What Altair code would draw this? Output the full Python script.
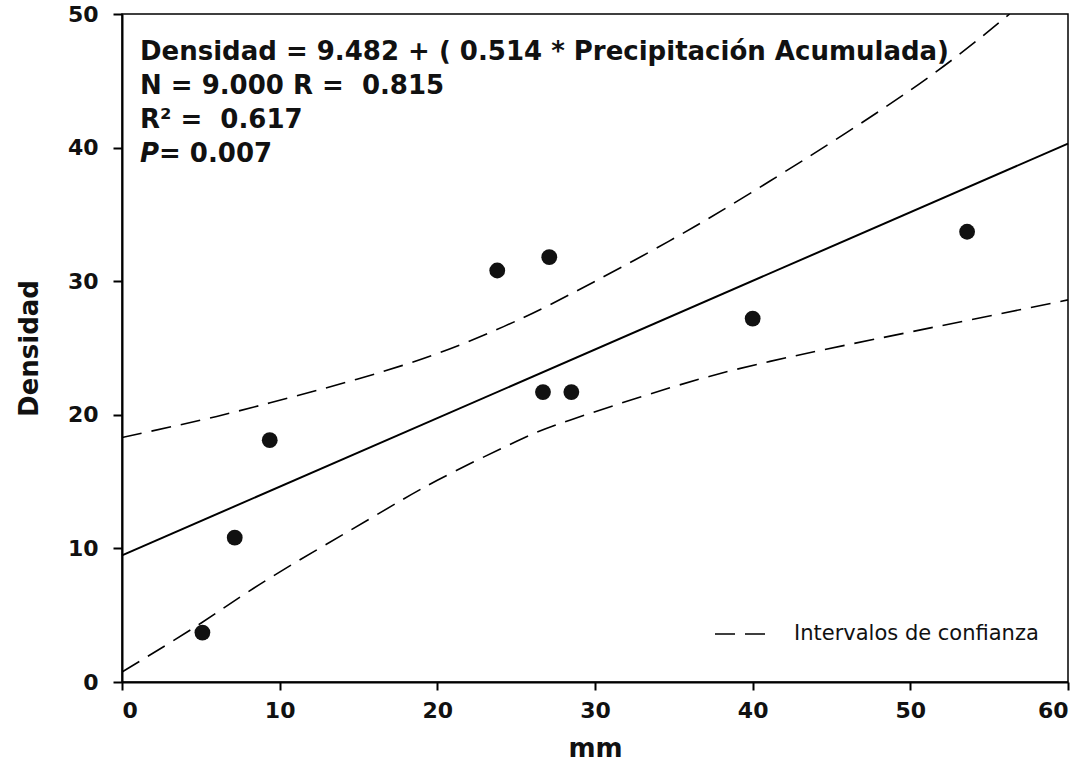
import altair as alt
import pandas as pd

mm = [5.1, 7.15, 9.37, 23.8, 26.7, 27.1, 28.5, 40.0, 53.6]
dens = [3.7, 10.8, 18.1, 30.8, 21.7, 31.8, 21.7, 27.2, 33.7]

fit_x = [0, 60]
fit_y = [9.48, 40.3]

# Confidence band
up_x = [0, 5, 9.4, 17.8, 24.2, 28.4, 34.7, 41.1, 50, 56.3]
up_y = [18.3, 19.6, 20.9, 23.7, 26.6, 29.0, 33.0, 37.5, 44.3, 50.0]
lo_x = [0, 5, 9.4, 15.7, 20.0, 25.0, 28.4, 34.7, 41.1, 50, 60]
lo_y = [0.75, 4.4, 7.8, 12.2, 15.1, 18.0, 19.6, 22.0, 24.0, 26.2, 28.6]

NB = "\u00a0"
ann_lines = [
    "Densidad = 9.482 + ( 0.514 * Precipitación Acumulada)",
    "N = 9.000 R =" + NB + NB + "0.815",
    "R² =" + NB + NB + "0.617",
]
p_label = "P"
p_value = "= 0.007"
legend_label = "Intervalos de confianza"

FONT = "DejaVu Sans"

pts = pd.DataFrame({"mm": mm, "dens": dens})
fit = pd.DataFrame({"mm": fit_x, "dens": fit_y})
band = pd.concat([
    pd.DataFrame({"mm": up_x, "dens": up_y, "lado": "sup", "leyenda": legend_label}),
    pd.DataFrame({"mm": lo_x, "dens": lo_y, "lado": "inf", "leyenda": legend_label}),
])

xs = alt.Scale(domain=[0, 60], nice=False, zero=False)
ys = alt.Scale(domain=[0, 50], nice=False)

xax = alt.Axis(values=[0, 10, 20, 30, 40, 50, 60], title="mm", grid=False,
               tickSize=8, labelPadding=10, titlePadding=14)
yax = alt.Axis(values=[0, 10, 20, 30, 40, 50], title="Densidad", grid=False,
               tickSize=9, labelPadding=15, titlePadding=25)

points = alt.Chart(pts).mark_circle(size=250, color="#111111", opacity=1).encode(
    x=alt.X("mm:Q", scale=xs, axis=xax),
    y=alt.Y("dens:Q", scale=ys, axis=yax),
)

fit_line = alt.Chart(fit).mark_line(color="black", strokeWidth=2).encode(
    x=alt.X("mm:Q", scale=xs),
    y=alt.Y("dens:Q", scale=ys),
)

band_lines = alt.Chart(band).mark_line(color="black", strokeWidth=1.6, interpolate="natural", clip=True).encode(
    x=alt.X("mm:Q", scale=xs),
    y=alt.Y("dens:Q", scale=ys),
    detail="lado:N",
    strokeDash=alt.StrokeDash(
        "leyenda:N",
        scale=alt.Scale(domain=[legend_label], range=[[20, 10]]),
        legend=alt.Legend(
            title=None, orient="none", legendX=592, legendY=594,
            symbolType="stroke", symbolSize=2500, symbolStrokeWidth=1.5,
            symbolStrokeColor="black", labelFont=FONT, labelFontSize=21,
            labelColor="#111111", labelOffset=28, padding=0, labelLimit=600,
        ),
    ),
)

layers = [band_lines, fit_line, points]
y0 = 38
for i, line in enumerate(ann_lines):
    layers.append(
        alt.Chart(pd.DataFrame({"t": [line]})).mark_text(
            align="left", baseline="middle", font=FONT, fontSize=26,
            fontWeight="bold", color="#111111",
        ).encode(x=alt.value(18), y=alt.value(y0 + 34 * i), text="t:N")
    )
layers.append(
    alt.Chart(pd.DataFrame({"t": [p_label]})).mark_text(
        align="left", baseline="middle", font=FONT, fontSize=26,
        fontWeight="bold", fontStyle="italic", color="#111111",
    ).encode(x=alt.value(18), y=alt.value(y0 + 34 * 3), text="t:N")
)
layers.append(
    alt.Chart(pd.DataFrame({"t": [p_value]})).mark_text(
        align="left", baseline="middle", font=FONT, fontSize=26,
        fontWeight="bold", color="#111111",
    ).encode(x=alt.value(37), y=alt.value(y0 + 34 * 3), text="t:N")
)

chart = alt.layer(*layers).properties(
    width=946, height=668,
    autosize=alt.AutoSizeParams(type="none"),
    padding={"left": 122, "top": 14, "right": 20, "bottom": 85},
    background="white",
).configure_view(
    stroke="black", strokeWidth=1.5,
).configure_axis(
    domainColor="black", domainWidth=2, tickColor="black", tickWidth=2,
    labelFont=FONT, labelFontSize=22, labelFontWeight="bold", labelColor="#111111",
    titleFont=FONT, titleFontSize=26, titleFontWeight="bold", titleColor="#111111",
)

chart.save("out.html", embed_options={"renderer": "svg", "actions": False})
